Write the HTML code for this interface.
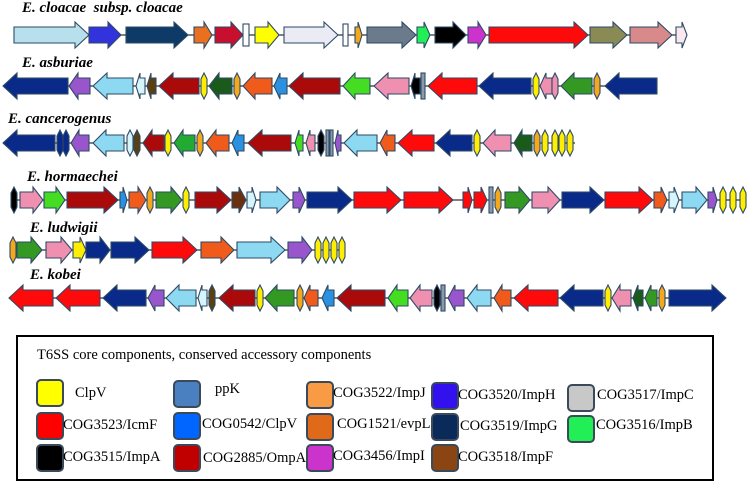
<!DOCTYPE html>
<html><head><meta charset="utf-8"><style>
body{margin:0;background:#fff;width:748px;height:482px;overflow:hidden;position:relative;font-family:"Liberation Serif",serif}
.t{position:absolute;font-weight:bold;font-style:italic;font-size:15px;color:#000;white-space:nowrap}
.lg{position:absolute;left:16px;top:335px;width:694px;height:142px;border:2px solid #000;box-sizing:content-box}
.sw{position:absolute;width:24px;height:24px;border:2px solid #3a4a5a;border-radius:5px}
.lt{position:absolute;font-size:14.5px;white-space:nowrap;color:#000}
svg path,svg rect{stroke:#2e4a66;stroke-width:1.1}
</style></head><body>
<div class="t" style="left:22px;top:0px">E. cloacae&nbsp; subsp. cloacae</div>
<div class="t" style="left:22px;top:55px">E. asburiae</div>
<div class="t" style="left:8px;top:111px">E. cancerogenus</div>
<div class="t" style="left:27px;top:169px">E. hormaechei</div>
<div class="t" style="left:30px;top:220px">E. ludwigii</div>
<div class="t" style="left:30px;top:267px">E. kobei</div>
<svg width="748" height="330" style="position:absolute;left:0;top:0">
<g transform="translate(0,35)">
<line x1="14" y1="0" x2="687" y2="0" stroke="#333" stroke-width="1.2"/>
<path fill="#b8e0ec" d="M14 -8h61v-5l14 13l-14 13v-5h-61z"/>
<path fill="#3333dd" d="M89 -8h19v-5l13 13l-13 13v-5h-19z"/>
<path fill="#0d3a66" d="M126 -8h48v-5l14 13l-14 13v-5h-48z"/>
<path fill="#e8701e" d="M194 -8h10v-5l8 13l-8 13v-5h-10z"/>
<path fill="#c8102e" d="M215 -8h16v-5l12 13l-12 13v-5h-16z"/>
<rect x="243" y="-11" width="6" height="22" fill="#fff"/>
<path fill="#ffff00" d="M255 -8h13v-5l11 13l-11 13v-5h-13z"/>
<path fill="#ebebf5" d="M284 -8h40v-5l14 13l-14 13v-5h-40z"/>
<rect x="343" y="-11" width="5" height="22" fill="#fff"/>
<path fill="#f4a81c" d="M355 -8h3v-5l4 13l-4 13v-5h-3z"/>
<path fill="#6c7b8b" d="M367 -8h35v-5l14 13l-14 13v-5h-35z"/>
<path fill="#22ee55" d="M417 -8h7v-5l6 13l-6 13v-5h-7z"/>
<path fill="#000" d="M435 -8h18v-5l13 13l-13 13v-5h-18z"/>
<path fill="#cc33cc" d="M468 -8h10v-5l8 13l-8 13v-5h-10z"/>
<path fill="#ff0a0a" d="M489 -8h85v-5l14 13l-14 13v-5h-85z"/>
<path fill="#8a8a55" d="M590 -8h23v-5l14 13l-14 13v-5h-23z"/>
<path fill="#d88a8a" d="M630 -8h28v-5l14 13l-14 13v-5h-28z"/>
<path fill="#fbe8ee" d="M676 -8h6v-5l5 13l-5 13v-5h-6z"/>
</g>
<g transform="translate(0,86)">
<line x1="3" y1="0" x2="657" y2="0" stroke="#333" stroke-width="1.2"/>
<path fill="#0a2a8a" d="M68 -8h-51v-5l-14 13l14 13v-5h51z"/>
<path fill="#9955cc" d="M90 -8h-12v-5l-9 13l9 13v-5h12z"/>
<path fill="#8dd9f2" d="M133 -8h-26v-5l-14 13l14 13v-5h26z"/>
<path fill="#d6f4fb" d="M145 -8h-5v-5l-4 13l4 13v-5h5z"/>
<path fill="#5a4010" d="M156 -8h-5v-5l-4 13l4 13v-5h5z"/>
<path fill="#aa0a0a" d="M199 -8h-26v-5l-14 13l14 13v-5h26z"/>
<path fill="#ffee00" d="M204 -13l3 6v14l-3 6l-3-6v-14z"/>
<path fill="#1a5a1a" d="M232 -8h-13v-5l-10 13l10 13v-5h13z"/>
<path fill="#f4a81c" d="M237 -13l3 6v14l-3 6l-3-6v-14z"/>
<path fill="#f05a1a" d="M272 -8h-17v-5l-12 13l12 13v-5h17z"/>
<path fill="#2a90e0" d="M287 -8h-7v-5l-6 13l6 13v-5h7z"/>
<path fill="#aa0a0a" d="M340 -8h-37v-5l-14 13l14 13v-5h37z"/>
<path fill="#44dd22" d="M370 -8h-15v-5l-12 13l12 13v-5h15z"/>
<path fill="#f090b0" d="M409 -8h-21v-5l-14 13l14 13v-5h21z"/>
<path fill="#000" d="M420 -8h-5v-5l-4 13l4 13v-5h5z"/>
<rect x="421" y="-13" width="4" height="26" fill="#8a9aa8"/>
<path fill="#ff0a0a" d="M477 -8h-35v-5l-14 13l14 13v-5h35z"/>
<path fill="#0a2a8a" d="M531 -8h-38v-5l-14 13l14 13v-5h38z"/>
<path fill="#ffee00" d="M536 -13l3 6v14l-3 6l-3-6v-14z"/>
<path fill="#f090b0" d="M552 -8h-6v-5l-6 13l6 13v-5h6z"/>
<path fill="#f090b0" d="M555 -13l3 6v14l-3 6l-3-6v-14z"/>
<path fill="#339922" d="M592 -8h-18v-5l-13 13l13 13v-5h18z"/>
<path fill="#f4a81c" d="M597 -13l3 6v14l-3 6l-3-6v-14z"/>
<path fill="#0a2a8a" d="M657 -8h-38v-5l-14 13l14 13v-5h38z"/>
</g>
<g transform="translate(0,143)">
<line x1="3" y1="0" x2="575" y2="0" stroke="#333" stroke-width="1.2"/>
<path fill="#0a2a8a" d="M55 -8h-38v-5l-14 13l14 13v-5h38z"/>
<path fill="#0a2a8a" d="M60 -13l3 6v14l-3 6l-3-6v-14z"/>
<path fill="#0a2a8a" d="M66 -13l3 6v14l-3 6l-3-6v-14z"/>
<path fill="#9955cc" d="M89 -8h-10v-5l-8 13l8 13v-5h10z"/>
<path fill="#8dd9f2" d="M124 -8h-18v-5l-13 13l13 13v-5h18z"/>
<path fill="#d6f4fb" d="M130 -13l3 6v14l-3 6l-3-6v-14z"/>
<path fill="#5a4010" d="M137 -13l3 6v14l-3 6l-3-6v-14z"/>
<path fill="#aa0a0a" d="M164 -8h-12v-5l-9 13l9 13v-5h12z"/>
<path fill="#ffee00" d="M168 -13l3 6v14l-3 6l-3-6v-14z"/>
<path fill="#22aa33" d="M195 -8h-12v-5l-9 13l9 13v-5h12z"/>
<path fill="#f4a81c" d="M200 -13l3 6v14l-3 6l-3-6v-14z"/>
<path fill="#f05a1a" d="M229 -8h-13v-5l-10 13l10 13v-5h13z"/>
<path fill="#2a90e0" d="M244 -8h-6v-5l-6 13l6 13v-5h6z"/>
<path fill="#aa0a0a" d="M291 -8h-29v-5l-14 13l14 13v-5h29z"/>
<path fill="#44dd22" d="M303 -8h-4v-5l-4 13l4 13v-5h4z"/>
<path fill="#f090b0" d="M315 -8h-5v-5l-4 13l4 13v-5h5z"/>
<path fill="#000" d="M321 -13l3 6v14l-3 6l-3-6v-14z"/>
<rect x="326" y="-13" width="3" height="26" fill="#8a9aa8"/>
<rect x="330" y="-13" width="3" height="26" fill="#8a9aa8"/>
<path fill="#9955cc" d="M341 -8h-3v-5l-3 13l3 13v-5h3z"/>
<path fill="#8dd9f2" d="M377 -8h-20v-5l-13 13l13 13v-5h20z"/>
<path fill="#f05a1a" d="M395 -8h-8v-5l-7 13l7 13v-5h8z"/>
<path fill="#ff0a0a" d="M434 -8h-22v-5l-14 13l14 13v-5h22z"/>
<path fill="#0a2a8a" d="M472 -8h-22v-5l-14 13l14 13v-5h22z"/>
<path fill="#ffee00" d="M477 -13l3 6v14l-3 6l-3-6v-14z"/>
<path fill="#f090b0" d="M511 -8h-16v-5l-12 13l12 13v-5h16z"/>
<path fill="#1a5a1a" d="M532 -8h-10v-5l-8 13l8 13v-5h10z"/>
<path fill="#f4a81c" d="M537 -13l3 6v14l-3 6l-3-6v-14z"/>
<path fill="#ffee00" d="M545 -13l3 6v14l-3 6l-3-6v-14z"/>
<path fill="#ffee00" d="M555 -13l3 6v14l-3 6l-3-6v-14z"/>
<path fill="#ffee00" d="M562 -13l3 6v14l-3 6l-3-6v-14z"/>
<path fill="#ffee00" d="M570 -13l3 6v14l-3 6l-3-6v-14z"/>
</g>
<g transform="translate(0,200)">
<line x1="11" y1="0" x2="746" y2="0" stroke="#333" stroke-width="1.2"/>
<path fill="#000" d="M14 -13l3 6v14l-3 6l-3-6v-14z"/>
<path fill="#f090b0" d="M20 -8h13v-5l10 13l-10 13v-5h-13z"/>
<path fill="#44dd22" d="M44 -8h12v-5l9 13l-9 13v-5h-12z"/>
<path fill="#aa0a0a" d="M67 -8h37v-5l14 13l-14 13v-5h-37z"/>
<path fill="#2a90e0" d="M120 -8h3v-5l4 13l-4 13v-5h-3z"/>
<path fill="#f05a1a" d="M129 -8h9v-5l8 13l-8 13v-5h-9z"/>
<path fill="#f4a81c" d="M150 -13l3 6v14l-3 6l-3-6v-14z"/>
<path fill="#339922" d="M156 -8h15v-5l11 13l-11 13v-5h-15z"/>
<path fill="#ffee00" d="M186 -13l3 6v14l-3 6l-3-6v-14z"/>
<path fill="#aa0a0a" d="M195 -8h22v-5l14 13l-14 13v-5h-22z"/>
<path fill="#6a3010" d="M232 -8h7v-5l7 13l-7 13v-5h-7z"/>
<path fill="#d6f4fb" d="M247 -8h5v-5l4 13l-4 13v-5h-5z"/>
<path fill="#8dd9f2" d="M260 -8h17v-5l13 13l-13 13v-5h-17z"/>
<path fill="#9955cc" d="M293 -8h6v-5l6 13l-6 13v-5h-6z"/>
<path fill="#0a2a8a" d="M307 -8h31v-5l14 13l-14 13v-5h-31z"/>
<path fill="#ff0a0a" d="M354 -8h33v-5l14 13l-14 13v-5h-33z"/>
<path fill="#ff0a0a" d="M404 -8h35v-5l14 13l-14 13v-5h-35z"/>
<path fill="#ff0a0a" d="M463 -8h5v-5l4 13l-4 13v-5h-5z"/>
<path fill="#ff0a0a" d="M474 -8h7v-5l6 13l-6 13v-5h-7z"/>
<rect x="489" y="-13" width="4" height="26" fill="#8a9aa8"/>
<path fill="#f4a81c" d="M498 -13l3 6v14l-3 6l-3-6v-14z"/>
<path fill="#339922" d="M505 -8h14v-5l11 13l-11 13v-5h-14z"/>
<path fill="#f090b0" d="M532 -8h16v-5l12 13l-12 13v-5h-16z"/>
<path fill="#0a2a8a" d="M562 -8h28v-5l14 13l-14 13v-5h-28z"/>
<path fill="#ff0a0a" d="M605 -8h34v-5l14 13l-14 13v-5h-34z"/>
<path fill="#f05a1a" d="M654 -8h7v-5l6 13l-6 13v-5h-7z"/>
<path fill="#d6f4fb" d="M669 -8h5v-5l5 13l-5 13v-5h-5z"/>
<path fill="#8dd9f2" d="M682 -8h14v-5l11 13l-11 13v-5h-14z"/>
<path fill="#9955cc" d="M708 -8h5v-5l4 13l-4 13v-5h-5z"/>
<path fill="#ffee00" d="M723 -13l3 6v14l-3 6l-3-6v-14z"/>
<path fill="#ffee00" d="M733 -13l3 6v14l-3 6l-3-6v-14z"/>
<path fill="#ffee00" d="M743 -13l3 6v14l-3 6l-3-6v-14z"/>
</g>
<g transform="translate(0,250)">
<line x1="10" y1="0" x2="345" y2="0" stroke="#333" stroke-width="1.2"/>
<path fill="#f4a81c" d="M13 -13l3 6v14l-3 6l-3-6v-14z"/>
<path fill="#339922" d="M17 -8h14v-5l11 13l-11 13v-5h-14z"/>
<path fill="#f090b0" d="M46 -8h15v-5l11 13l-11 13v-5h-15z"/>
<path fill="#ffee00" d="M73 -8h7v-5l6 13l-6 13v-5h-7z"/>
<path fill="#0a2a8a" d="M86 -8h14v-5l10 13l-10 13v-5h-14z"/>
<path fill="#0a2a8a" d="M111 -8h24v-5l14 13l-14 13v-5h-24z"/>
<path fill="#ff0a0a" d="M152 -8h31v-5l14 13l-14 13v-5h-31z"/>
<path fill="#f05a1a" d="M201 -8h20v-5l13 13l-13 13v-5h-20z"/>
<path fill="#8dd9f2" d="M237 -8h34v-5l14 13l-14 13v-5h-34z"/>
<path fill="#9955cc" d="M288 -8h14v-5l10 13l-10 13v-5h-14z"/>
<path fill="#ffee00" d="M318 -13l3 6v14l-3 6l-3-6v-14z"/>
<path fill="#ffee00" d="M326 -13l3 6v14l-3 6l-3-6v-14z"/>
<path fill="#ffee00" d="M334 -13l3 6v14l-3 6l-3-6v-14z"/>
<path fill="#ffee00" d="M342 -13l3 6v14l-3 6l-3-6v-14z"/>
</g>
<g transform="translate(0,298)">
<line x1="9" y1="0" x2="726" y2="0" stroke="#333" stroke-width="1.2"/>
<path fill="#ff0a0a" d="M53 -8h-30v-5l-14 13l14 13v-5h30z"/>
<path fill="#ff0a0a" d="M100 -8h-30v-5l-14 13l14 13v-5h30z"/>
<path fill="#0a2a8a" d="M146 -8h-29v-5l-14 13l14 13v-5h29z"/>
<path fill="#9955cc" d="M164 -8h-9v-5l-7 13l7 13v-5h9z"/>
<path fill="#8dd9f2" d="M196 -8h-17v-5l-13 13l13 13v-5h17z"/>
<path fill="#d6f4fb" d="M207 -8h-5v-5l-4 13l4 13v-5h5z"/>
<path fill="#5a4010" d="M212 -13l3 6v14l-3 6l-3-6v-14z"/>
<path fill="#aa0a0a" d="M255 -8h-22v-5l-14 13l14 13v-5h22z"/>
<path fill="#ffee00" d="M260 -13l3 6v14l-3 6l-3-6v-14z"/>
<path fill="#339922" d="M294 -8h-17v-5l-12 13l12 13v-5h17z"/>
<path fill="#f4a81c" d="M300 -13l3 6v14l-3 6l-3-6v-14z"/>
<path fill="#f05a1a" d="M318 -8h-8v-5l-6 13l6 13v-5h8z"/>
<path fill="#2a90e0" d="M334 -8h-6v-5l-6 13l6 13v-5h6z"/>
<path fill="#aa0a0a" d="M385 -8h-34v-5l-14 13l14 13v-5h34z"/>
<path fill="#44dd22" d="M408 -8h-11v-5l-9 13l9 13v-5h11z"/>
<path fill="#f090b0" d="M432 -8h-12v-5l-10 13l10 13v-5h12z"/>
<path fill="#000" d="M437 -13l3 6v14l-3 6l-3-6v-14z"/>
<rect x="441" y="-13" width="4" height="26" fill="#8a9aa8"/>
<path fill="#9955cc" d="M464 -8h-9v-5l-7 13l7 13v-5h9z"/>
<path fill="#8dd9f2" d="M491 -8h-14v-5l-10 13l10 13v-5h14z"/>
<path fill="#f05a1a" d="M511 -8h-9v-5l-8 13l8 13v-5h9z"/>
<path fill="#ff0a0a" d="M558 -8h-30v-5l-14 13l14 13v-5h30z"/>
<path fill="#0a2a8a" d="M603 -8h-29v-5l-14 13l14 13v-5h29z"/>
<path fill="#ffee00" d="M608 -13l3 6v14l-3 6l-3-6v-14z"/>
<path fill="#f090b0" d="M631 -8h-11v-5l-8 13l8 13v-5h11z"/>
<path fill="#1a5a1a" d="M643 -8h-5v-5l-5 13l5 13v-5h5z"/>
<path fill="#339922" d="M657 -8h-6v-5l-6 13l6 13v-5h6z"/>
<path fill="#f4a81c" d="M662 -13l3 6v14l-3 6l-3-6v-14z"/>
<path fill="#0a2a8a" d="M669 -8h43v-5l14 13l-14 13v-5h-43z"/>
</g>
</svg>
<div class="lg"></div>
<div class="lt" style="left:37px;top:347px">T6SS core components, conserved accessory components</div>
<div class="sw" style="left:36px;top:379px;background:#ffff00"></div>
<div class="sw" style="left:36px;top:412px;background:#ff0000"></div>
<div class="sw" style="left:36px;top:444px;background:#000"></div>
<div class="sw" style="left:173px;top:380px;background:#4a7fc0"></div>
<div class="sw" style="left:173px;top:412px;background:#0066ff"></div>
<div class="sw" style="left:173px;top:444px;background:#c00000"></div>
<div class="sw" style="left:306px;top:381px;background:#f99a45"></div>
<div class="sw" style="left:306px;top:413px;background:#e06a1a"></div>
<div class="sw" style="left:306px;top:444px;background:#cc33cc"></div>
<div class="sw" style="left:431px;top:382px;background:#3311ee"></div>
<div class="sw" style="left:431px;top:413px;background:#0a2a5a"></div>
<div class="sw" style="left:431px;top:444px;background:#8b4513"></div>
<div class="sw" style="left:567px;top:384px;background:#c8c8c8"></div>
<div class="sw" style="left:567px;top:415px;background:#22ee55"></div>
<div class="lt" style="left:75px;top:385px">ClpV</div>
<div class="lt" style="left:63px;top:417px">COG3523/IcmF</div>
<div class="lt" style="left:63px;top:449px">COG3515/ImpA</div>
<div class="lt" style="left:215px;top:381px">ppK</div>
<div class="lt" style="left:202px;top:416px">COG0542/ClpV</div>
<div class="lt" style="left:203px;top:450px">COG2885/OmpA</div>
<div class="lt" style="left:333px;top:385px">COG3522/ImpJ</div>
<div class="lt" style="left:337px;top:416px">COG1521/evpL</div>
<div class="lt" style="left:333px;top:448px">COG3456/ImpI</div>
<div class="lt" style="left:458px;top:387px">COG3520/ImpH</div>
<div class="lt" style="left:460px;top:418px">COG3519/ImpG</div>
<div class="lt" style="left:458px;top:449px">COG3518/ImpF</div>
<div class="lt" style="left:597px;top:387px">COG3517/ImpC</div>
<div class="lt" style="left:596px;top:417px">COG3516/ImpB</div>
</body></html>
